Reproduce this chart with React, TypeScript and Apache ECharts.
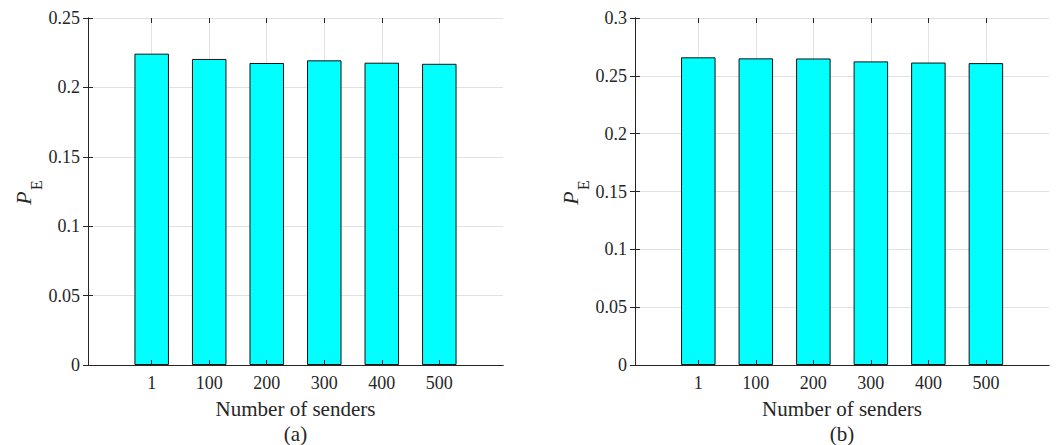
import React, { useEffect, useRef } from 'react';
import * as echarts from 'echarts';

// ---- data ----
const categories = ['1', '100', '200', '300', '400', '500'];
const valuesA = [0.2243, 0.2205, 0.2176, 0.2195, 0.2178, 0.217];
const valuesB = [0.266, 0.2651, 0.265, 0.2625, 0.2615, 0.261];
const yMaxA = 0.25;
const yMaxB = 0.3;
const yStep = 0.05;
const xTitle = 'Number of senders';
const panelTags = ['(a)', '(b)'];
const yNameMain = 'P';
const yNameSub = 'E';

// ---- style ----
const FONT = 'Liberation Serif';
const AXIS = '#262626';
const GRIDC = '#e2e2e2';
const TOP = 18;
const H = 347;
const LABEL_SIZE = 18;

type PanelCfg = {
  outerLeft: number;
  outerWidth: number;
  innerLeft: number;
  innerWidth: number;
  values: number[];
  yMax: number;
  tag: string;
};

const panels: PanelCfg[] = [
  { outerLeft: 88, outerWidth: 415, innerLeft: 151.7, innerWidth: 287.6, values: valuesA, yMax: yMaxA, tag: panelTags[0] },
  { outerLeft: 635, outerWidth: 414, innerLeft: 698.3, innerWidth: 287.6, values: valuesB, yMax: yMaxB, tag: panelTags[1] },
];

const labelStyle = { fontSize: LABEL_SIZE, fontFamily: FONT, color: AXIS };

function buildOption() {
  const grid: any[] = [];
  const xAxis: any[] = [];
  const yAxis: any[] = [];
  const series: any[] = [];
  const graphic: any[] = [];

  panels.forEach((p, i) => {
    grid.push({ left: p.outerLeft, top: TOP, width: p.outerWidth, height: H, containLabel: false });
    grid.push({ left: p.innerLeft, top: TOP, width: p.innerWidth, height: H, containLabel: false });
    const og = 2 * i;
    const ig = 2 * i + 1;

    ['bottom', 'top'].forEach((pos) => {
      xAxis.push({
        type: 'value', gridIndex: og, position: pos, min: 0, max: 1, z: 5,
        axisLine: { show: true, lineStyle: { color: AXIS, width: 1 } },
        axisTick: { show: false }, axisLabel: { show: false }, splitLine: { show: false },
      });
    });
    xAxis.push({
      type: 'category', gridIndex: ig, position: 'bottom', data: categories, boundaryGap: false, z: 6,
      axisLine: { show: false },
      axisTick: { show: true, inside: true, length: 5, interval: 0, lineStyle: { color: AXIS, width: 1 } },
      axisLabel: { show: true, margin: 9, interval: 0, hideOverlap: false, ...labelStyle },
      splitLine: { show: false },
    });
    xAxis.push({
      type: 'category', gridIndex: ig, position: 'top', data: categories, boundaryGap: false,
      axisLine: { show: false },
      axisTick: { show: true, inside: true, length: 5, interval: 0, lineStyle: { color: AXIS, width: 1 } },
      axisLabel: { show: false, interval: 0 },
      splitLine: { show: true, interval: 0, lineStyle: { color: GRIDC, width: 1 } },
    });

    yAxis.push({
      type: 'value', gridIndex: og, position: 'left', min: 0, max: p.yMax, interval: yStep,
      axisLine: { show: true, lineStyle: { color: AXIS, width: 1 } },
      axisTick: { show: true, inside: true, length: 5, lineStyle: { color: AXIS } },
      axisLabel: { show: true, margin: 8, ...labelStyle },
      splitLine: { show: true, lineStyle: { color: GRIDC, width: 1 } },
    });
    yAxis.push({
      type: 'value', gridIndex: og, position: 'right', min: 0, max: p.yMax, interval: yStep, z: 5,
      axisLine: { show: true, lineStyle: { color: AXIS, width: 1 } },
      axisTick: { show: true, inside: true, length: 5, lineStyle: { color: AXIS } },
      axisLabel: { show: false },
      splitLine: { show: false },
    });
    yAxis.push({ type: 'value', gridIndex: ig, min: 0, max: p.yMax, show: false });

    series.push({
      type: 'bar',
      xAxisIndex: 4 * i + 2,
      yAxisIndex: 3 * i + 2,
      data: p.values,
      barWidth: '60%',
      clip: false,
      itemStyle: { color: '#00ffff', borderColor: '#111111', borderWidth: 1 },
    });

    const cx = p.outerLeft + p.outerWidth / 2;
    graphic.push({
      type: 'text', x: cx, y: 409, z: 10,
      style: { text: xTitle, fontSize: 21, fontFamily: FONT, fill: AXIS, align: 'center', verticalAlign: 'middle' },
    });
    graphic.push({
      type: 'text', x: cx, y: 434, z: 10,
      style: { text: p.tag, fontSize: 21, fontFamily: FONT, fill: AXIS, align: 'center', verticalAlign: 'middle' },
    });
    const px = p.outerLeft - 65;
    graphic.push({
      type: 'text', x: px, y: 198, rotation: Math.PI / 2, z: 10,
      style: { text: yNameMain, fontSize: 22, fontStyle: 'italic', fontFamily: FONT, fill: AXIS, align: 'center', verticalAlign: 'middle' },
    });
    graphic.push({
      type: 'text', x: px + 13, y: 185, rotation: Math.PI / 2, z: 10,
      style: { text: yNameSub, fontSize: 16, fontFamily: FONT, fill: AXIS, align: 'center', verticalAlign: 'middle' },
    });
  });

  return {
    animation: false,
    backgroundColor: '#ffffff',
    textStyle: { fontFamily: FONT, fontSize: LABEL_SIZE, color: AXIS },
    grid, xAxis, yAxis, series, graphic,
  };
}

export default function App() {
  const ref = useRef<HTMLDivElement>(null);
  useEffect(() => {
    if (!ref.current) return;
    const chart = echarts.init(ref.current, undefined, { renderer: 'svg' });
    chart.setOption(buildOption() as any);
    return () => chart.dispose();
  }, []);
  return (
    <div
      ref={ref}
      style={{ position: 'absolute', left: 0, top: 0, width: 1056, height: 445, background: '#fff' }}
    />
  );
}
